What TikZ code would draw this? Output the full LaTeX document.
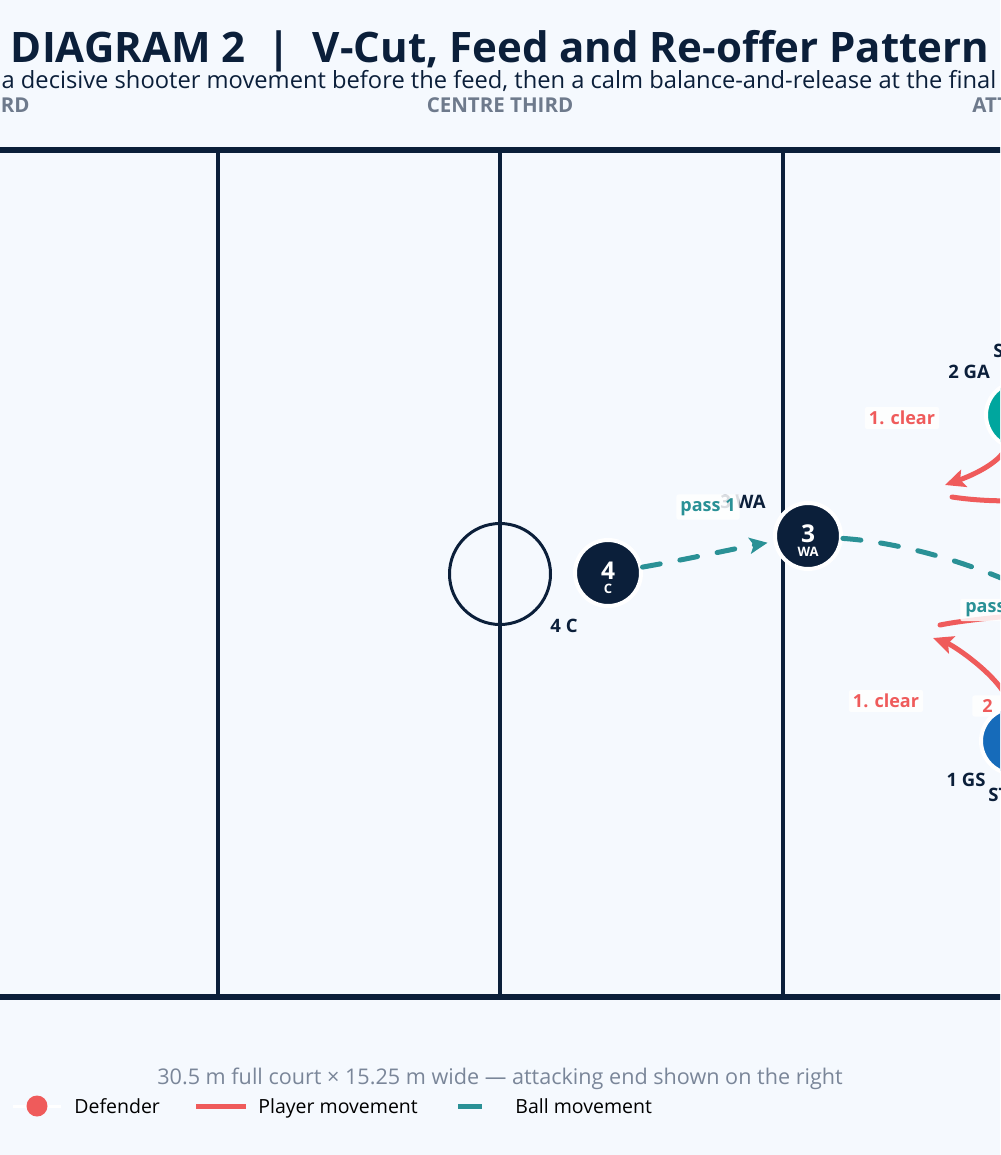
\documentclass[tikz,border=0pt]{standalone}
\usepackage{fontspec}
\setmainfont{Open Sans}
\usetikzlibrary{arrows.meta}

\definecolor{navy}{HTML}{0B1F3A}
\definecolor{ballteal}{HTML}{2A9196}
\definecolor{moved}{HTML}{EF5B5B}
\definecolor{gafill}{HTML}{00A69E}
\definecolor{gsfill}{HTML}{166BBA}
\definecolor{thirdgrey}{HTML}{6E7A8C}
\definecolor{notegrey}{HTML}{7A8699}
\definecolor{courtbg}{HTML}{F5F9FE}

\tikzset{every picture/.style={line width=0.75pt},
  courtline/.style={draw=navy, line width=3.5},
  player/.style={circle, draw=white, line width=4, minimum size=66, inner sep=0},
  num/.style={text=white, font=\fontsize{24.5}{24.5}\selectfont\bfseries, inner sep=0},
  role/.style={text=white, font=\fontsize{13}{13}\selectfont\bfseries, inner sep=0},
  tag/.style={text=navy, font=\fontsize{18.5}{18.5}\selectfont\bfseries, inner sep=0},
  third/.style={text=thirdgrey, font=\fontsize{20.5}{20.5}\selectfont\bfseries, inner sep=0},
  ball/.style={draw=ballteal, line width=5, dash pattern=on 18pt off 20pt, line cap=round},
  run/.style={draw=moved, line width=5, line cap=round},
  lbl/.style={fill=white, fill opacity=0.85, text opacity=1, rounded corners=2, inner sep=4, font=\fontsize{18}{18}\selectfont\bfseries},
  legendtext/.style={text=black, font=\fontsize{19.5}{19.5}\selectfont, inner sep=0, anchor=base west},
}

\begin{document}
\begin{tikzpicture}[x=1pt,y=1pt,yscale=-1,xscale=1]
    \useasboundingbox (0,0) rectangle (1000,1155);
    \fill[courtbg] (0,0) rectangle (1000,1155);
    \clip (0,0) rectangle (1000,1155);

    % Title and subtitle
    \node[font=\fontsize{42}{42}\selectfont\bfseries, text=navy, inner sep=0, anchor=base] (title) at (500,63) {DIAGRAM 2\hspace{22pt}|\hspace{22pt}V-Cut, Feed and Re-offer Pattern};
    \node[font=\fontsize{23.7}{23.7}\selectfont, text=navy, inner sep=0, anchor=base] (subtitle) at (499,89) {a decisive shooter movement before the feed, then a calm balance-and-release at the final};

    % Thirds
    \node[third, anchor=base east] (defthird) at (30,113) {RD};
    \node[third, anchor=base] (centrethird) at (500,113) {CENTRE THIRD};
    \node[third, anchor=base west] (attthird) at (972,113) {ATT};

    % Court
    \draw[draw=navy, line width=6] (-10,150) -- (1010,150);
    \draw[draw=navy, line width=6] (-10,997) -- (1010,997);
    \draw[courtline] (218,150) -- (218,997);
    \draw[courtline] (500,150) -- (500,997);
    \draw[courtline] (783,150) -- (783,997);
    \draw[draw=navy, line width=3] (500,574) circle (50.5);

    % Player tags
    \node[tag] (ctag) at (564,626) {4 C};
    \node[tag] (watag) at (743,502) {3 WA};
    \node[tag] (gatag) at (969,372) {2 GA};
    \node[tag] (gstag) at (966,780) {1 GS};
    \node[tag, anchor=west] (gaside) at (993,351) {S};
    \node[tag, anchor=west] (gsside) at (988,795) {ST};

    % Players
    \node[player, fill=navy] (c) at (608,573) {};
    \node[player, fill=navy] (wa) at (808,536) {};
    \node[num] at (608,571) {4};
    \node[role] at (608,589) {C};
    \node[num] at (808,534) {3};
    \node[role] at (808,552) {WA};

    \coordinate (feed) at (1080,620);
    \coordinate (gaclear) at (945,485);
    \coordinate (garet) at (952,497);
    \coordinate (gaend) at (1080,495);
    \coordinate (gsclear) at (933,638);
    \coordinate (gsret) at (940,625);
    \coordinate (gsend) at (1080,610);

    % Ball movement
    \draw[ball, -{Stealth[length=18pt,width=16pt,inset=4pt]}, shorten >=6pt] (c) .. controls +(70,-12) and +(-60,10) .. (wa);
    \draw[ball] (wa) .. controls +(102,7) and +(-70,-48) .. (feed);

    % Player movement
    \draw[run] (garet) .. controls (985,502) and (1030,503) .. (gaend);
    \draw[run] (gsret) .. controls (970,619) and (1020,615) .. (gsend);

    % Labels
    \node[lbl, text=ballteal] (pass1) at (708,507) {pass 1};
    \node[lbl, text=ballteal, anchor=west, minimum width=50] (pass2) at (960,610) {pass};
    \node[lbl, text=moved] (gaclr) at (902,418) {1. clear};
    \node[lbl, text=moved] (gsclr) at (886,701) {1. clear};
    \node[lbl, text=moved, anchor=west, minimum width=30] (gsre) at (972,706) {2};

    % Shooters
    \node[player, fill=gafill] (ga) at (1019,415) {};
    \node[player, fill=gsfill] (gs) at (1014,741) {};
    \draw[run, -{Stealth[length=20pt,width=18pt,inset=4pt]}] (ga) .. controls +(-20,50) and +(20,-7) .. (gaclear);
    \draw[run, -{Stealth[length=20pt,width=18pt,inset=4pt]}] (gs) .. controls +(-8,-60) and +(22,8) .. (gsclear);

    % Footnote and legend
    \node[font=\fontsize{21.6}{21.6}\selectfont, text=notegrey, inner sep=0, anchor=base] (note) at (500,1084) {30.5 m full court × 15.25 m wide — attacking end shown on the right};
    \draw[white, line width=3] (13,1106) -- (61,1106);
    \fill[moved] (37,1106) circle (10.5);
    \node[legendtext] (legdef) at (74,1113) {Defender};
    \draw[moved, line width=5] (196,1106) -- (246,1106);
    \node[legendtext] (legrun) at (258,1113) {Player movement};
    \draw[ballteal, line width=5] (458,1106) -- (482,1106);
    \node[legendtext] (legball) at (515,1113) {Ball movement};

\end{tikzpicture}
\end{document}
